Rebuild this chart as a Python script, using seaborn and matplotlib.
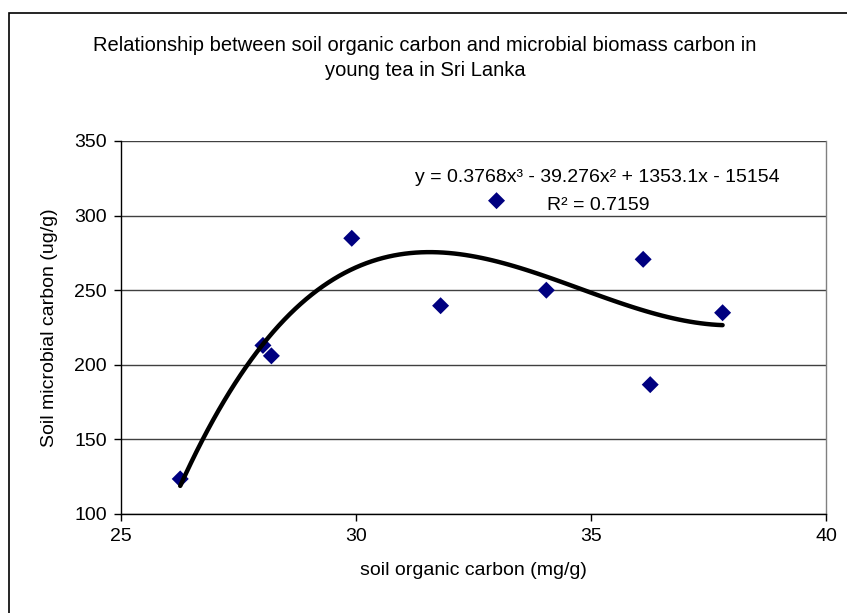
import matplotlib
matplotlib.use("Agg")
import matplotlib.pyplot as plt
import seaborn as sns
import pandas as pd
from matplotlib.patches import Rectangle

# Data
soil_organic_carbon = [26.26, 28.02, 28.20, 29.91, 31.80, 32.99, 34.05, 36.11, 36.26, 37.80]
microbial_carbon = [123.5, 213.0, 206.0, 284.8, 239.6, 310.0, 250.0, 270.7, 186.7, 234.9]
x_ticks = [25, 30, 35, 40]
y_ticks = [100, 150, 200, 250, 300, 350]
title_text = "Relationship between soil organic carbon and microbial biomass carbon in\nyoung tea in Sri Lanka"
equation_text = "y = 0.3768x³ - 39.276x² + 1353.1x - 15154"
r2_text = "R² = 0.7159"

df = pd.DataFrame({"soc": soil_organic_carbon, "mbc": microbial_carbon})

sns.set_style("white")
plt.rcParams["font.family"] = ["Liberation Sans", "DejaVu Sans"]
plt.rcParams["text.color"] = "black"
plt.rcParams["axes.labelcolor"] = "black"
plt.rcParams["xtick.color"] = "black"
plt.rcParams["ytick.color"] = "black"

W, H = 847, 613
fig = plt.figure(figsize=(W / 100, H / 100), dpi=100)
ax = fig.add_axes([121 / W, 1 - 514 / H, (826 - 121) / W, (514 - 141) / H])

sns.regplot(data=df, x="soc", y="mbc", order=3, ci=None, ax=ax,
            marker="D",
            scatter_kws={"s": 75, "color": "#000080", "edgecolor": "none",
                         "alpha": 1.0, "zorder": 2},
            line_kws={"color": "black", "lw": 3.2, "zorder": 3, "solid_capstyle": "round"})

ax.set_xlim(25, 40)
ax.set_ylim(100, 350)
ax.set_xticks(x_ticks)
ax.set_yticks(y_ticks)
ax.yaxis.grid(True, color="#404040", lw=1.0)
ax.xaxis.grid(False)
ax.set_axisbelow(True)

for s in ["left", "bottom"]:
    ax.spines[s].set_color("black")
    ax.spines[s].set_linewidth(1.0)
ax.spines["top"].set_visible(False)
ax.spines["right"].set_color("#808080")
ax.spines["right"].set_linewidth(1.0)

ax.tick_params(axis="both", direction="out", length=5, width=1, color="black",
               labelcolor="black", labelsize=14, pad=5, left=True, bottom=True)

ax.set_xlabel("soil organic carbon (mg/g)", fontsize=14, labelpad=12, color="black")
ax.set_ylabel("Soil microbial carbon (ug/g)", fontsize=14, labelpad=12, color="black")

fig.text(425 / W, 1 - 58 / H, title_text, ha="center", va="center", fontsize=14.5,
         linespacing=1.45, color="black")

fig.text(597 / W, 1 - 178 / H, equation_text, ha="center", va="center", fontsize=14,
         color="black")
fig.text(598 / W, 1 - 205 / H, r2_text, ha="center", va="center", fontsize=14,
         color="black")

# outer chart border (right and bottom edges lie outside the image)
fig.patches.append(Rectangle((9 / W, -0.05), 1.2, 1 - 13 / H + 0.05,
                             transform=fig.transFigure, fill=False,
                             edgecolor="black", lw=1.2))

fig.savefig("out.png", dpi=100)
